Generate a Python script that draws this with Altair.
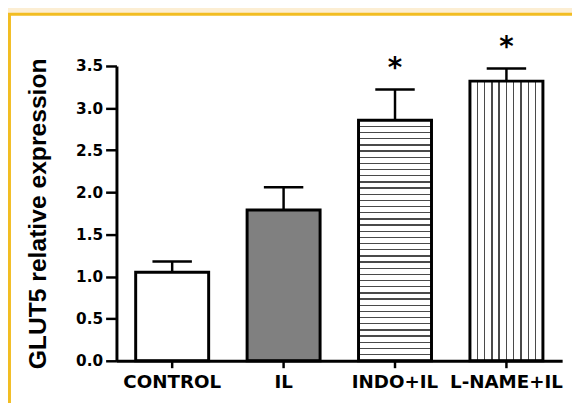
import altair as alt
import pandas as pd

groups = ["CONTROL", "IL", "INDO+IL", "L-NAME+IL"]
means = [1.05, 1.79, 2.855, 3.32]
sems = [0.13, 0.27, 0.365, 0.15]
stars = ["", "", "*", "*"]
y_ticks = [0.0, 0.5, 1.0, 1.5, 2.0, 2.5, 3.0, 3.5]

df = pd.DataFrame({"group": groups, "mean": means, "sem": sems, "star": stars})
df["upper"] = df["mean"] + df["sem"]

W, H = 452, 299
BG = "#FCEED3"
FRAME = "#F2BD22"
LINE = "#4a4a4a"


def stripes(n, thick, vertical):
    stops = [{"offset": 0, "color": "white"}]
    for i in range(1, n):
        c = i / n
        a, b = max(0, c - thick / 2), min(1, c + thick / 2)
        stops += [{"offset": a, "color": "white"}, {"offset": a, "color": LINE},
                  {"offset": b, "color": LINE}, {"offset": b, "color": "white"}]
    stops.append({"offset": 1, "color": "white"})
    g = {"gradient": "linear", "x1": 0, "y1": 0, "x2": 0, "y2": 1, "stops": stops}
    if vertical:
        g.update({"x2": 1, "y2": 0})
    return g


fills = {
    "CONTROL": "white",
    "IL": "#808080",
    "INDO+IL": stripes(39, 1.4 / 244, False),
    "L-NAME+IL": stripes(10, 1.4 / 74, True),
}

x_axis = alt.Axis(title=None, labelAngle=0, tickSize=7, labelPadding=5, zindex=2,
                  domainColor="black", domainWidth=3, tickColor="black", tickWidth=2.5,
                  labelColor="black", grid=False,
                  labelFont="DejaVu Sans", labelFontSize=18.5, labelFontWeight="bold")
y_axis = alt.Axis(title="GLUT5 relative expression", values=y_ticks, format=".1f",
                  tickSize=11, labelPadding=3, zindex=2, grid=False,
                  domainColor="black", domainWidth=3, tickColor="black", tickWidth=2.5,
                  labelColor="black", titleColor="black",
                  labelFont="DejaVu Sans", labelFontSize=15.5, labelFontWeight="bold",
                  titleFont="Liberation Sans", titleFontSize=25, titleFontWeight="bold",
                  titleAngle=-90, titleX=-80, titleY=H / 2,
                  titleAlign="center", titleBaseline="middle")

x_scale = alt.Scale(domain=groups, paddingInner=0.345, paddingOuter=0.1725)
y_scale = alt.Scale(domain=[0, 3.5], nice=False, zero=True)

base = alt.Chart(df)

panel = base.transform_filter(alt.datum.group == "CONTROL").mark_rect(
    fill="white", stroke=FRAME, strokeWidth=3
).encode(x=alt.value(-108.5), x2=alt.value(W + 40), y=alt.value(-52.5), y2=alt.value(H + 60))

bars = [
    base.transform_filter(alt.datum.group == g).mark_bar(
        fill=fills[g], stroke="black", strokeWidth=3
    ).encode(x=alt.X("group:N", sort=groups, scale=x_scale, axis=x_axis),
             y=alt.Y("mean:Q", scale=y_scale, axis=y_axis))
    for g in groups
]

err = base.mark_rule(color="black", strokeWidth=2.5).encode(
    x=alt.X("group:N", sort=groups), y="mean:Q", y2="upper:Q")
cap = base.mark_tick(color="black", size=40, thickness=2.5, opacity=1).encode(
    x=alt.X("group:N", sort=groups), y="upper:Q")
star = base.mark_text(font="DejaVu Sans", fontSize=28, fontWeight="bold", color="black",
                      baseline="alphabetic", dy=-13).encode(
    x=alt.X("group:N", sort=groups), y="upper:Q", text="star:N")

chart = alt.layer(panel, *bars, err, cap, star).properties(
    width=W, height=H,
    autosize=alt.AutoSizeParams(type="none"),
    padding={"left": 110, "top": 56, "right": 10, "bottom": 40},
    background=BG,
).configure_view(stroke=None, fill=None)

chart.save("out.html", embed_options={"renderer": "svg", "actions": False})
